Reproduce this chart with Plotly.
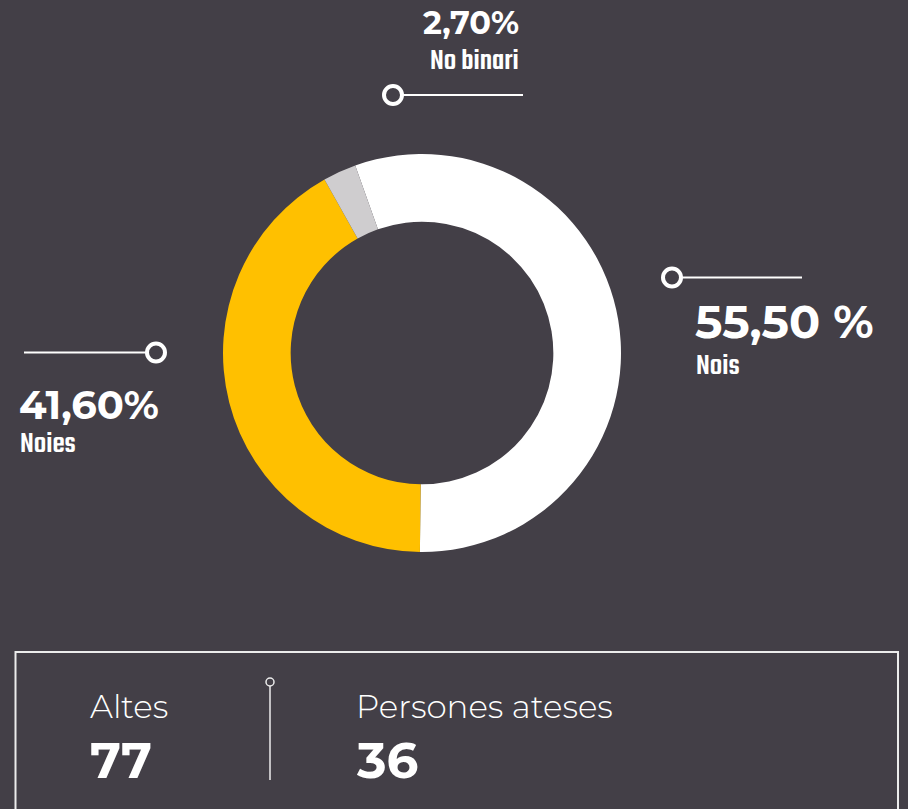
import plotly.graph_objects as go

# ---- data ----
categories = ["Nois", "Noies", "No binari"]
values = [55.5, 41.6, 2.7]
value_labels = ["55,50 %", "41,60%", "2,70%"]
colors = ["#ffffff", "#ffc000", "#cfcdcf"]
stat_labels = ["Altes", "Persones ateses"]
stat_values = ["77", "36"]

BG = "#433f47"
W, H = 908, 809

def px(x):
    return x / W

def py(y):
    return 1 - y / H

fig = go.Figure()
fig.add_trace(go.Pie(
    labels=categories, values=values, sort=False, direction="clockwise",
    rotation=-19.6, hole=0.66, textinfo="none", hoverinfo="label+percent",
    marker=dict(colors=colors, line=dict(width=0)),
    domain=dict(x=[px(223), px(621)], y=[py(552), py(154)]),
    showlegend=False,
))

BOLD = "Montserrat, 'Open Sans', sans-serif"
COND = "Teko, Khand, 'Roboto Condensed', sans-serif"
LIGHT = "Montserrat, 'Open Sans', sans-serif"

ann = []
# No binari (top)
ann.append(dict(x=px(521), y=py(23), text=value_labels[2], xanchor="right", yanchor="middle",
                font=dict(family=BOLD, size=32, color="white", weight=700)))
ann.append(dict(x=px(521), y=py(61), text=categories[2], xanchor="right", yanchor="middle",
                font=dict(family=COND, size=31, color="white", weight=500)))
# Nois (right)
ann.append(dict(x=px(693), y=py(321), text=value_labels[0], xanchor="left", yanchor="middle",
                font=dict(family=BOLD, size=46, color="white", weight=700)))
ann.append(dict(x=px(694), y=py(366), text=categories[0], xanchor="left", yanchor="middle",
                font=dict(family=COND, size=31, color="white", weight=500)))
# Noies (left)
ann.append(dict(x=px(17), y=py(404), text=value_labels[1], xanchor="left", yanchor="middle",
                font=dict(family=BOLD, size=40, color="white", weight=700)))
ann.append(dict(x=px(18), y=py(445), text=categories[1], xanchor="left", yanchor="middle",
                font=dict(family=COND, size=31, color="white", weight=500)))
# bottom stats
for lbl, val, x0 in zip(stat_labels, stat_values, [88, 354]):
    ann.append(dict(x=px(x0), y=py(706), text=lbl, xanchor="left", yanchor="middle",
                    font=dict(family=LIGHT, size=32.5, color="white", weight=300)))
    ann.append(dict(x=px(x0), y=py(760), text=val, xanchor="left", yanchor="middle",
                    font=dict(family=BOLD, size=50, color="white", weight=700)))

for a in ann:
    a.update(xref="paper", yref="paper", showarrow=False)

shapes = []
def connector(x0, x1, y, cx):
    shapes.append(dict(type="line", xref="paper", yref="paper",
                       x0=px(x0), x1=px(x1), y0=py(y), y1=py(y),
                       line=dict(color="white", width=2)))
    r = 9
    shapes.append(dict(type="circle", xref="paper", yref="paper",
                       x0=px(cx - r), x1=px(cx + r), y0=py(y + r), y1=py(y - r),
                       fillcolor=BG, line=dict(color="white", width=4)))

connector(393, 523, 95, 393)
connector(672, 802, 277.5, 672)
connector(24, 156, 352.5, 156)

# bottom box
shapes.append(dict(type="rect", xref="paper", yref="paper",
                   x0=px(15.5), x1=px(898), y0=py(652), y1=py(830),
                   line=dict(color="#ececec", width=2), fillcolor="rgba(0,0,0,0)"))
shapes.append(dict(type="line", xref="paper", yref="paper",
                   x0=px(270), x1=px(270), y0=py(686), y1=py(780),
                   line=dict(color="#ececec", width=1.5)))
shapes.append(dict(type="circle", xref="paper", yref="paper",
                   x0=px(266), x1=px(274), y0=py(686), y1=py(678),
                   fillcolor=BG, line=dict(color="#ececec", width=1.5)))

fig.update_layout(
    width=W, height=H, margin=dict(l=0, r=0, t=0, b=0),
    paper_bgcolor=BG, plot_bgcolor=BG,
    annotations=ann, shapes=shapes,
    xaxis=dict(visible=False), yaxis=dict(visible=False),
)
fig.write_html("out.html")
